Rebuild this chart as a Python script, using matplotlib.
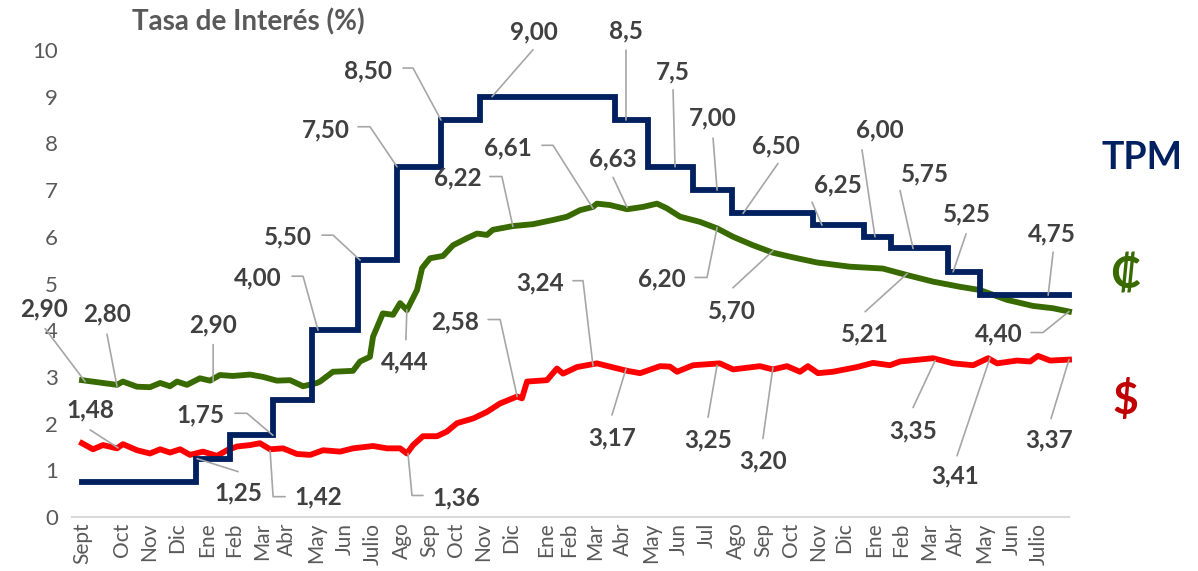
import numpy as np
import matplotlib
matplotlib.use('Agg')
import matplotlib.pyplot as plt

plt.rcParams['font.family'] = ['Lato', 'DejaVu Sans']

# x axis in months from the first observation (Sept = 0)
meses = ['Sept', 'Oct', 'Nov', 'Dic', 'Ene', 'Feb', 'Mar', 'Abr', 'May', 'Jun', 'Julio',
         'Ago', 'Sep', 'Oct', 'Nov', 'Dic', 'Ene', 'Feb', 'Mar', 'Abr', 'May', 'Jun', 'Jul',
         'Ago', 'Sep', 'Oct', 'Nov', 'Dic', 'Ene', 'Feb', 'Mar', 'Abr', 'May', 'Jun', 'Julio']
mes_pos = [0.0, 1.42, 2.38, 3.37, 4.43, 5.39, 6.38, 7.27, 8.30, 9.33, 10.32,
           11.35, 12.30, 13.26, 14.22, 15.21, 16.45, 17.27, 18.19, 19.18, 20.18, 21.17, 22.16,
           23.19, 24.15, 25.14, 26.10, 27.02, 28.09, 29.04, 30.04, 30.99, 31.99, 32.98, 33.94]

# TPM (step series): month where each level starts
tpm_x = [0.0, 4.04, 5.25, 6.77, 8.16, 9.79, 11.17, 12.73, 14.11, 18.90, 20.07, 21.67,
         23.05, 25.92, 27.73, 28.69, 30.71, 31.84, 35.0]
tpm_v = [0.75, 1.25, 1.75, 2.50, 4.00, 5.50, 7.50, 8.50, 9.00, 8.50, 7.50, 7.00,
         6.50, 6.25, 6.00, 5.75, 5.25, 4.75, 4.75]

# colones
col_x = [0.00, 0.74, 1.24, 1.45, 1.95, 2.41, 2.77, 3.12, 3.37, 3.72, 4.18, 4.54, 4.89,
         5.35, 5.96, 6.42, 6.91, 7.38, 7.84, 8.33, 8.44, 8.90, 9.61, 9.86, 10.21, 10.32,
         10.67, 11.03, 11.28, 11.52, 11.88, 12.06, 12.34, 12.80, 13.16, 13.65, 14.01, 14.36,
         14.57, 15.28, 15.99, 16.70, 17.20, 17.66, 18.12, 18.26, 18.72, 19.33, 19.89, 20.39,
         20.74, 21.21, 21.91, 22.52, 23.09, 23.79, 24.50, 25.21, 26.06, 27.23, 28.40, 29.26,
         30.18, 31.13, 31.84, 32.80, 33.72, 34.43, 35.00]
col_v = [2.93, 2.87, 2.83, 2.90, 2.79, 2.78, 2.87, 2.80, 2.90, 2.83, 2.97, 2.92, 3.04,
         3.02, 3.05, 3.00, 2.92, 2.93, 2.80, 2.87, 2.90, 3.11, 3.13, 3.33, 3.43, 3.86,
         4.36, 4.33, 4.58, 4.43, 4.86, 5.33, 5.54, 5.59, 5.82, 5.97, 6.07, 6.04,
         6.15, 6.23, 6.27, 6.36, 6.43, 6.57, 6.64, 6.71, 6.68, 6.59, 6.64, 6.71,
         6.61, 6.43, 6.32, 6.18, 6.00, 5.82, 5.66, 5.56, 5.45, 5.36, 5.32, 5.18,
         5.04, 4.93, 4.86, 4.65, 4.52, 4.47, 4.40]

# dolares
dol_x = [0.00, 0.39, 0.74, 1.24, 1.45, 1.95, 2.41, 2.77, 3.12, 3.48, 3.83, 4.29, 4.79,
         5.14, 5.50, 5.96, 6.31, 6.67, 7.13, 7.62, 8.09, 8.55, 9.15, 9.61, 10.32, 10.82,
         11.28, 11.52, 11.74, 12.09, 12.59, 12.94, 13.30, 13.87, 14.36, 14.82, 15.43, 15.60,
         15.78, 16.49, 16.84, 17.06, 17.55, 18.26, 18.72, 19.33, 19.79, 20.50, 20.85, 21.10,
         21.67, 22.62, 23.09, 24.04, 24.50, 25.00, 25.46, 25.74, 26.10, 26.63, 27.48, 28.05,
         28.65, 29.01, 30.18, 30.89, 31.60, 32.13, 32.45, 33.16, 33.62, 33.90, 34.33, 35.00]
dol_v = [1.58, 1.45, 1.54, 1.47, 1.56, 1.43, 1.36, 1.45, 1.38, 1.45, 1.33, 1.40, 1.31,
         1.43, 1.51, 1.54, 1.58, 1.45, 1.47, 1.35, 1.33, 1.43, 1.40, 1.47, 1.52, 1.47,
         1.47, 1.36, 1.54, 1.73, 1.73, 1.83, 2.01, 2.11, 2.25, 2.43, 2.58, 2.54,
         2.90, 2.93, 3.18, 3.07, 3.21, 3.29, 3.22, 3.13, 3.08, 3.23, 3.22, 3.11,
         3.25, 3.29, 3.16, 3.23, 3.16, 3.23, 3.11, 3.23, 3.08, 3.11, 3.21, 3.30,
         3.25, 3.33, 3.40, 3.29, 3.25, 3.40, 3.29, 3.35, 3.33, 3.45, 3.35, 3.37]

# labelled values
tpm_lab_x = [11.17, 9.86, 8.37, 12.73, 14.54, 19.29, 21.03, 22.52, 23.44, 26.24, 28.12,
             29.47, 30.89, 34.26, 4.08, 6.77]
tpm_lab_v = [7.50, 5.50, 4.00, 8.50, 9.00, 8.50, 7.50, 7.00, 6.50, 6.25, 6.00,
             5.75, 5.25, 4.75, 1.25, 1.75]
tpm_lab_t = ['7,50', '5,50', '4,00', '8,50', '9,00', '8,5', '7,5', '7,00', '6,50', '6,25', '6,00',
             '5,75', '5,25', '4,75', '1,25', '1,75']

col_lab_x = [0.11, 1.24, 4.65, 11.52, 15.28, 18.12, 19.33, 22.52, 24.50, 29.26, 35.0]
col_lab_v = [2.90, 2.80, 2.90, 4.44, 6.22, 6.61, 6.63, 6.20, 5.70, 5.21, 4.40]
col_lab_t = ['2,90', '2,80', '2,90', '4,44', '6,22', '6,61', '6,63', '6,20', '5,70', '5,21', '4,40']

dol_lab_x = [1.28, 6.67, 11.56, 15.43, 18.12, 19.29, 22.52, 24.50, 30.25, 32.20, 35.0]
dol_lab_v = [1.48, 1.42, 1.36, 2.58, 3.24, 3.17, 3.25, 3.20, 3.35, 3.41, 3.37]
dol_lab_t = ['1,48', '1,42', '1,36', '2,58', '3,24', '3,17', '3,25', '3,20', '3,35', '3,41', '3,37']

# label layout in pixels: text offset, leader start, horizontal stub
tpm_lay = [((-71, 37), (-39, 40), 12), ((-72, 23), (-38, 25), 11), ((-60, 52), (-26, 54), 11),
           ((-73, 49), (-38, 52), 10), ((42, 65), (41, 47), 0), ((0, 89), (0, 70), 0),
           ((-2, 95), (-2, 77), 0), ((-4, 72), (-4, 52), 0), ((33, 68), (35, 50), 0),
           ((16, 40), (-10, 23), 0), ((5, 107), (-13, 87), 0), ((12, 75), (-13, 58), 0),
           ((14, 58), (13, 38), 0), ((4, 61), (5, 43), 0), ((41, -34), (41, -13), 0),
           ((-73, 20), (-38, 22), 12)]
col_lay = [((-41, 73), (-40, 53), 0), ((-10, 72), (-10, 52), 0), ((0, 57), (0, 37), 0),
           ((-2, -52), (-1, -30), 0), ((-55, 49), (-23, 50), 12), ((-85, 60), (-51, 63), 11),
           ((-14, 48), (-14, 30), 0), ((-55, -51), (-22, -50), 12), ((-41, -60), (-40, -37), 0),
           ((-42, -60), (-42, -38), 0), ((-70, -22), (-38, -21), 12)]
dol_lay = [((-28, 38), (-28, 18), 0), ((48, -46), (15, -46), -12), ((48, -44), (15, -42), -11),
           ((-62, 75), (-29, 77), 12), ((-53, 83), (-20, 85), 10), ((-14, -69), (-14, -46), 0),
           ((-9, -75), (-9, -52), 0), ((-10, -93), (-10, -71), 0), ((-22, -70), (-22, -47), 0),
           ((-35, -118), (-33, -98), 0), ((-20, -80), (-18, -59), 0)]

c_tpm = '#002060'
c_col = '#386A00'
c_dol = '#FF0000'

fig = plt.figure(figsize=(11.98, 5.71), dpi=100)
ax = fig.add_axes([72 / 1198, 54 / 571, 997 / 1198, 467 / 571])

ax.plot(col_x, col_v, color=c_col, lw=4.2, clip_on=False, solid_joinstyle='round')
ax.plot(dol_x, dol_v, color=c_dol, lw=4.2, clip_on=False, solid_joinstyle='round')
ax.step(tpm_x, tpm_v, where='post', color=c_tpm, lw=4.2, clip_on=False, solid_joinstyle='miter')

ax.set_xlim(-0.355, 35.0)
ax.set_ylim(0, 10)
ax.set_yticks(range(0, 11))
ax.set_xticks(mes_pos)
ax.set_xticklabels(meses, rotation=90)
ax.tick_params(axis='x', length=0, pad=4, labelsize=15, labelcolor='#595959')
ax.tick_params(axis='y', length=0, pad=10, labelsize=16, labelcolor='#595959')
for s in ['top', 'right', 'left']:
    ax.spines[s].set_visible(False)
ax.spines['bottom'].set_color('#D9D9D9')
ax.spines['bottom'].set_linewidth(1.5)


def etiqueta(x, y, txt, lay):
    off, start, stub = lay
    ax.annotate(txt, xy=(x, y), xytext=off, textcoords='offset pixels',
                ha='center', va='center', fontsize=17.5, fontweight='bold', color='#404040',
                annotation_clip=False)
    if stub:
        ang = np.degrees(np.arctan2(start[1], start[0] + stub))
        cs = f'angle,angleA=0,angleB={ang:.2f},rad=0'
    else:
        cs = 'arc3'
    ax.annotate('', xy=(x, y), xytext=start, textcoords='offset pixels',
                annotation_clip=False,
                arrowprops=dict(arrowstyle='-', color='#A6A6A6', lw=1.2,
                                shrinkA=0, shrinkB=0, connectionstyle=cs))


for x, v, t, l in zip(tpm_lab_x, tpm_lab_v, tpm_lab_t, tpm_lay):
    etiqueta(x, v, t, l)
for x, v, t, l in zip(col_lab_x, col_lab_v, col_lab_t, col_lay):
    etiqueta(x, v, t, l)
for x, v, t, l in zip(dol_lab_x, dol_lab_v, dol_lab_t, dol_lay):
    etiqueta(x, v, t, l)

fig.text(248 / 1198, 1 - 22 / 571, 'Tasa de Interés (%)', ha='center', va='center',
         fontsize=20, fontweight='bold', color='#595959')
fig.text(1142 / 1198, 1 - 158 / 571, 'TPM', ha='center', va='center',
         fontsize=27, fontweight='bold', color=c_tpm)
fig.text(1125 / 1198, 1 - 275 / 571, '₡', ha='center', va='center',
         fontsize=32, fontweight='bold', color=c_col)
fig.text(1125 / 1198, 1 - 400 / 571, '$', ha='center', va='center',
         fontsize=32, fontweight='bold', color='#C00000')

fig.savefig('out.png', dpi=100)
